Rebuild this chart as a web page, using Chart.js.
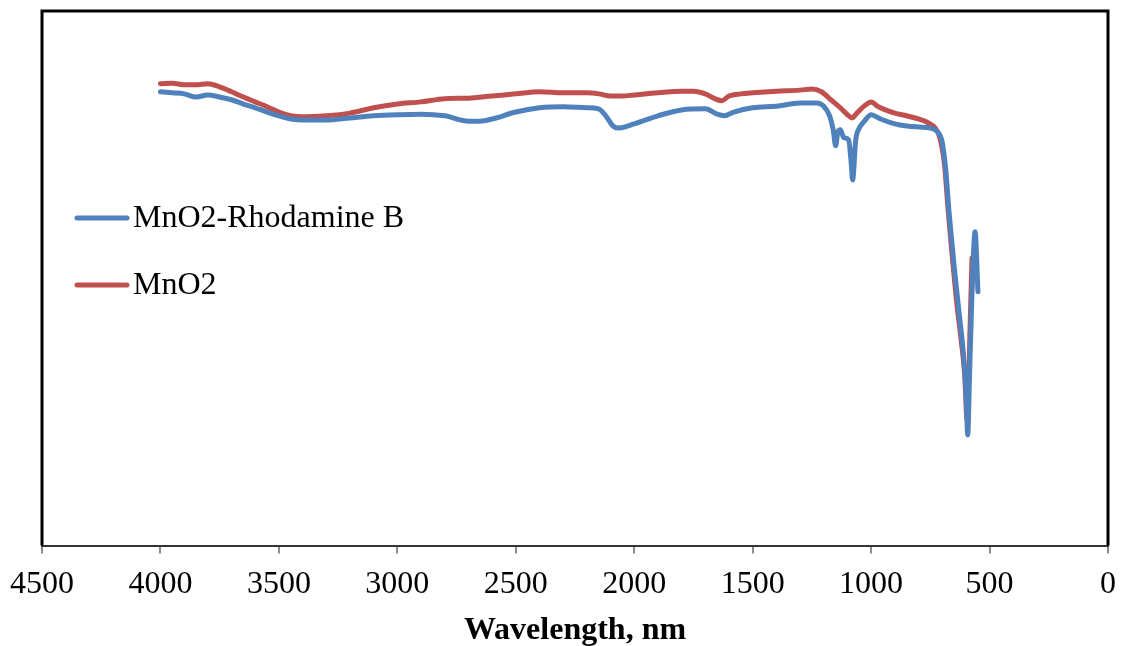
<!DOCTYPE html>
<html>
<head>
<meta charset="utf-8">
<script src="https://cdn.jsdelivr.net/npm/chart.js@4.4.0/dist/chart.umd.min.js"></script>
<style>
  html, body { margin: 0; padding: 0; background: #fff; }
  #wrap { width: 1125px; height: 646px; }
</style>
</head>
<body>
<div id="wrap"><canvas id="ftir"></canvas></div>
<script>
// wavenumbers and relative transmittance (y axis has no labels)
const rhodX = [4000, 3950, 3900, 3850, 3800, 3750, 3700, 3650, 3600, 3550, 3500, 3450, 3400, 3300, 3200, 3100, 3000, 2900, 2800, 2700, 2650, 2600, 2500, 2400, 2300, 2200, 2150, 2120, 2090, 2070, 2000, 1900, 1800, 1700, 1650, 1620, 1580, 1500, 1400, 1300, 1230, 1200, 1175, 1160, 1150, 1140, 1130, 1115, 1095, 1085, 1078, 1065, 1050, 1030, 1000, 960, 900, 850, 800, 750, 720, 700, 685, 670, 650, 630, 610, 600, 592, 585, 575, 561, 549];
const rhodY = [84.9, 84.7, 84.5, 83.9, 84.3, 83.9, 83.4, 82.6, 81.9, 81.1, 80.4, 79.8, 79.6, 79.6, 80.0, 80.4, 80.6, 80.7, 80.4, 79.4, 79.4, 79.8, 81.1, 81.9, 82.1, 81.9, 81.7, 80.4, 78.5, 78.1, 78.9, 80.4, 81.5, 81.7, 80.7, 80.4, 81.1, 81.9, 82.2, 82.8, 82.8, 82.2, 80.4, 77.8, 74.8, 77.4, 77.8, 76.3, 75.9, 72.1, 68.4, 75.9, 78.1, 79.3, 80.6, 79.8, 78.9, 78.5, 78.3, 78.1, 77.4, 75.5, 70.3, 61.9, 52.5, 44.1, 35.7, 29.2, 20.7, 31.0, 46.0, 58.7, 47.5];

const mnoX = [4000, 3950, 3900, 3850, 3800, 3750, 3700, 3650, 3600, 3550, 3500, 3450, 3400, 3300, 3200, 3100, 3000, 2900, 2800, 2700, 2600, 2500, 2400, 2300, 2200, 2150, 2100, 2050, 2000, 1900, 1800, 1750, 1700, 1660, 1630, 1600, 1550, 1500, 1400, 1300, 1250, 1210, 1170, 1130, 1100, 1080, 1060, 1030, 1000, 970, 950, 900, 850, 800, 760, 730, 710, 690, 675, 660, 640, 620, 605, 595, 590, 583, 574];
const mnoY = [86.4, 86.5, 86.2, 86.2, 86.4, 85.8, 84.9, 83.9, 83.0, 82.1, 81.1, 80.4, 80.2, 80.4, 80.9, 81.9, 82.6, 83.0, 83.6, 83.7, 84.1, 84.5, 84.9, 84.7, 84.7, 84.5, 84.1, 84.1, 84.3, 84.7, 85.0, 85.0, 84.5, 83.6, 83.2, 84.1, 84.5, 84.7, 85.0, 85.2, 85.4, 84.9, 83.4, 81.9, 80.6, 80.0, 80.9, 82.2, 83.0, 82.1, 81.7, 80.9, 80.4, 79.8, 79.1, 78.1, 76.3, 71.2, 62.8, 55.3, 46.0, 38.5, 32.0, 23.6, 27.1, 39.6, 53.8];

const xTicks = [4500, 4000, 3500, 3000, 2500, 2000, 1500, 1000, 500, 0];
const seriesNames = ['MnO2-Rhodamine B', 'MnO2'];
const seriesColors = ['#4F81BD', '#C0504D'];

const serif = '"Liberation Serif", "Times New Roman", serif';

const toPoints = (xs, ys) => xs.map((x, i) => ({ x: x, y: ys[i] }));

// frame round the plot area + legend drawn inside it
const framePlugin = {
    id: 'frame',
    afterDraw(chart) {
        const { ctx, chartArea: a } = chart;
        ctx.save();
        ctx.strokeStyle = '#000';
        ctx.lineWidth = 3;
        ctx.beginPath();
        ctx.moveTo(a.left, a.bottom);
        ctx.lineTo(a.left, a.top);
        ctx.lineTo(a.right, a.top);
        ctx.lineTo(a.right, a.bottom);
        ctx.stroke();

        const rows = [218, 285];
        ctx.font = '32px ' + serif;
        ctx.textBaseline = 'middle';
        ctx.fillStyle = '#000';
        chart.data.datasets.forEach((ds, i) => {
            ctx.strokeStyle = ds.borderColor;
            ctx.lineWidth = 5;
            ctx.lineCap = 'round';
            ctx.beginPath();
            ctx.moveTo(77, rows[i]);
            ctx.lineTo(127, rows[i]);
            ctx.stroke();
            ctx.fillText(ds.label, 133, rows[i] + 1);
        });
        ctx.restore();
    }
};

new Chart(document.getElementById('ftir'), {
    type: 'line',
    data: {
        datasets: [
            { label: seriesNames[0], data: toPoints(rhodX, rhodY), borderColor: seriesColors[0] },
            { label: seriesNames[1], data: toPoints(mnoX, mnoY), borderColor: seriesColors[1] }
        ].map(ds => Object.assign(ds, {
            borderWidth: 5,
            pointRadius: 0,
            fill: false,
            cubicInterpolationMode: 'monotone',
            borderJoinStyle: 'round',
            borderCapStyle: 'round'
        }))
    },
    options: {
        responsive: true,
        maintainAspectRatio: false,
        animation: false,
        layout: { padding: { left: 0, right: 17, top: 11, bottom: 0 } },
        plugins: { legend: { display: false }, tooltip: { enabled: false } },
        scales: {
            x: {
                type: 'linear',
                reverse: true,
                min: 0,
                max: 4500,
                afterBuildTicks: s => { s.ticks = xTicks.map(v => ({ value: v })); },
                afterFit: s => { s.paddingLeft = 0; s.paddingRight = 0; },
                ticks: { color: '#000', font: { family: serif, size: 32 }, padding: 12, maxRotation: 0, callback: v => String(v) },
                grid: { drawOnChartArea: false, drawTicks: true, tickLength: 8, color: '#8c8c8c', lineWidth: 2 },
                border: { color: '#333', width: 2 },
                title: { display: true, text: 'Wavelength, nm', color: '#000', font: { family: serif, size: 32, weight: 'bold', lineHeight: 0.8 }, padding: { top: 2.4, bottom: 2 } }
            },
            y: {
                min: 0,
                max: 100,
                ticks: { display: false },
                grid: { display: false },
                border: { display: false },
                afterFit: s => { s.width = 42; }
            }
        }
    },
    plugins: [framePlugin]
});
</script>
</body>
</html>
